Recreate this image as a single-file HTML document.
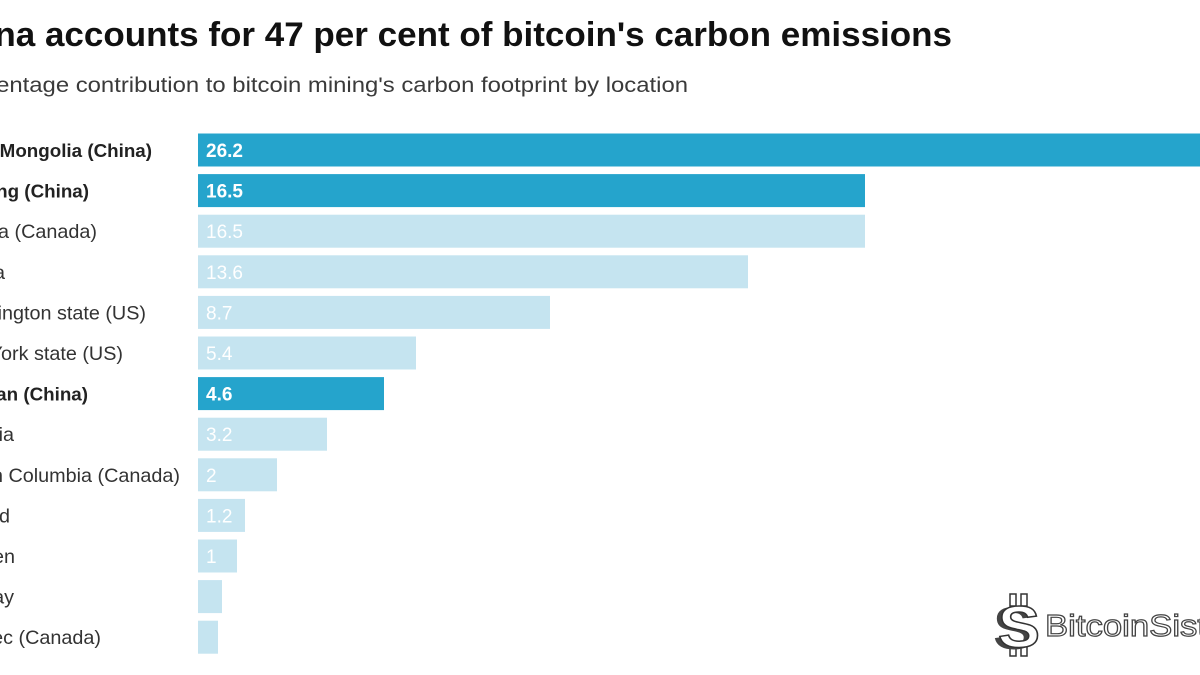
<!DOCTYPE html>
<html>
<head>
<meta charset="utf-8">
<style>
  html, body { margin: 0; padding: 0; background: #ffffff; }
  body { width: 1200px; height: 675px; overflow: hidden; }
  svg { display: block; }
  text { font-family: "Liberation Sans", "DejaVu Sans", sans-serif; }
</style>
</head>
<body>
<svg width="1200" height="675" viewBox="0 0 1200 675" xmlns="http://www.w3.org/2000/svg">
  <rect x="0" y="0" width="1200" height="675" fill="#ffffff"/>

  <!-- Title -->
  <text x="-62" y="46" font-size="34" font-weight="bold" fill="#111111" textLength="1014" lengthAdjust="spacingAndGlyphs">China accounts for 47 per cent of bitcoin's carbon emissions</text>
  <!-- Subtitle -->
  <text x="-53" y="92" font-size="21.5" fill="#3a3a3a" textLength="741" lengthAdjust="spacingAndGlyphs">Percentage contribution to bitcoin mining's carbon footprint by location</text>

  <!-- Bars -->
  <g>
    <rect x="198" y="133.5" width="1059" height="33" fill="#25a4cc"/>
    <rect x="198" y="174.1" width="667" height="33" fill="#25a4cc"/>
    <rect x="198" y="214.7" width="667" height="33" fill="#c5e4f0"/>
    <rect x="198" y="255.3" width="550" height="33" fill="#c5e4f0"/>
    <rect x="198" y="295.9" width="352" height="33" fill="#c5e4f0"/>
    <rect x="198" y="336.5" width="218" height="33" fill="#c5e4f0"/>
    <rect x="198" y="377.1" width="186" height="33" fill="#25a4cc"/>
    <rect x="198" y="417.7" width="129" height="33" fill="#c5e4f0"/>
    <rect x="198" y="458.3" width="79" height="33" fill="#c5e4f0"/>
    <rect x="198" y="498.9" width="47" height="33" fill="#c5e4f0"/>
    <rect x="198" y="539.5" width="39" height="33" fill="#c5e4f0"/>
    <rect x="198" y="580.1" width="24" height="33" fill="#c5e4f0"/>
    <rect x="198" y="620.7" width="20" height="33" fill="#c5e4f0"/>
  </g>

  <!-- Value labels -->
  <g font-size="19" fill="#ffffff">
    <text x="206" y="157" font-weight="bold">26.2</text>
    <text x="206" y="197.6" font-weight="bold">16.5</text>
    <text x="206" y="238.2">16.5</text>
    <text x="206" y="278.8">13.6</text>
    <text x="206" y="319.4">8.7</text>
    <text x="206" y="360">5.4</text>
    <text x="206" y="400.6" font-weight="bold">4.6</text>
    <text x="206" y="441.2">3.2</text>
    <text x="206" y="481.8">2</text>
    <text x="206" y="522.4">1.2</text>
    <text x="206" y="563">1</text>
  </g>

  <!-- Category labels (left-cropped) -->
  <g font-size="19.8" fill="#333333" text-anchor="end">
    <text x="152" y="157" font-weight="bold" font-size="18.8" fill="#222222">Inner Mongolia (China)</text>
    <text x="89" y="197.6" font-weight="bold" font-size="18.8" fill="#222222">Xinjiang (China)</text>
    <text x="97" y="238.2">Alberta (Canada)</text>
    <text x="5" y="278.8">Malaysia</text>
    <text x="146" y="319.4">Washington state (US)</text>
    <text x="123" y="360">New York state (US)</text>
    <text x="88" y="400.6" font-weight="bold" font-size="18.8" fill="#222222">Sichuan (China)</text>
    <text x="14" y="441.2">Russia</text>
    <text x="180" y="481.8">British Columbia (Canada)</text>
    <text x="10" y="522.4">Iceland</text>
    <text x="15" y="563">Sweden</text>
    <text x="14" y="603.6">Norway</text>
    <text x="101" y="644.2">Quebec (Canada)</text>
  </g>

  <!-- Watermark logo -->
  <g>
    <rect x="1010" y="594" width="6" height="12" fill="#ffffff" stroke="#333" stroke-width="1.5"/>
    <rect x="1021" y="594" width="6" height="12" fill="#ffffff" stroke="#333" stroke-width="1.5"/>
    <rect x="1010" y="644" width="6" height="12" fill="#ffffff" stroke="#333" stroke-width="1.5"/>
    <rect x="1021" y="644" width="6" height="12" fill="#ffffff" stroke="#333" stroke-width="1.5"/>
    <text x="993" y="649" font-size="60" font-weight="bold" fill="#444444" textLength="42" lengthAdjust="spacingAndGlyphs">S</text>
    <text x="998" y="647" font-size="58" font-weight="bold" fill="#ffffff" stroke="#333333" stroke-width="1.5" textLength="42" lengthAdjust="spacingAndGlyphs">S</text>
    <text x="1045" y="636" font-size="31" fill="#ffffff" stroke="#444444" stroke-width="1.2" textLength="218" lengthAdjust="spacingAndGlyphs">BitcoinSistemi</text>
  </g>
</svg>
</body>
</html>
